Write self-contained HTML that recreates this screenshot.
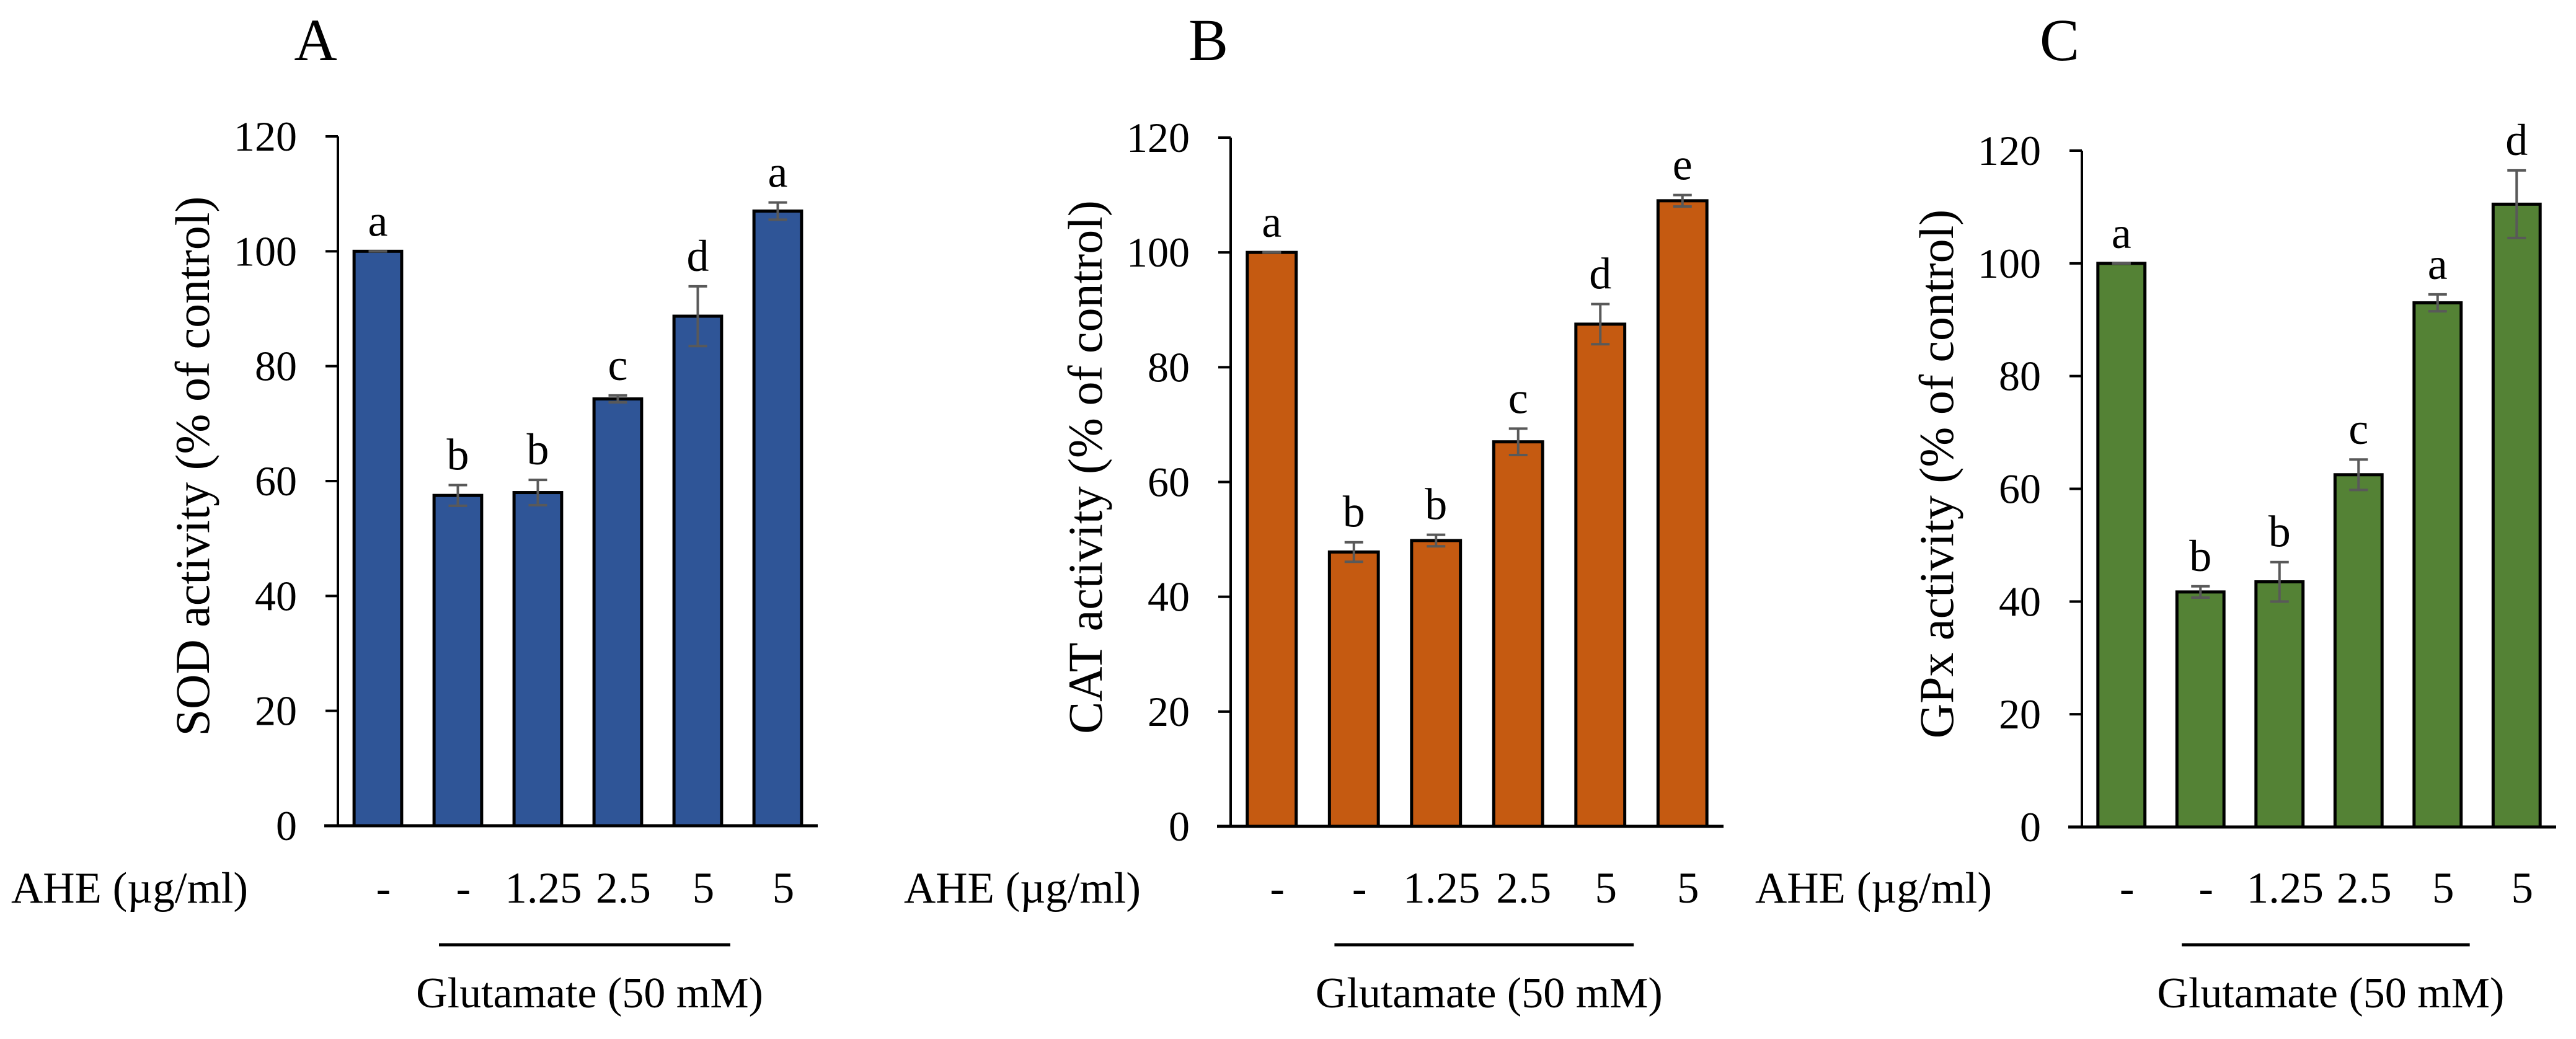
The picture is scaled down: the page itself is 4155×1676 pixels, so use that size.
<!DOCTYPE html>
<html><head><meta charset="utf-8"><style>
html,body{margin:0;padding:0;background:#fff;}
svg{display:block;font-family:"Liberation Serif","Times New Roman",serif;}
</style></head><body>
<svg id="fig" width="4155" height="1676" viewBox="0 0 4155 1676" xmlns="http://www.w3.org/2000/svg"></svg>
<script>
const categories = ["-", "-", "1.25", "2.5", "5", "5"];
const yTicks = [0, 20, 40, 60, 80, 100, 120];
const sodValues = [100, 57.5, 58, 74.3, 88.7, 107];
const sodErrors = [0, 1.8, 2.2, 0.6, 5.2, 1.5];
const sodLetters = ["a", "b", "b", "c", "d", "a"];
const catValues = [100, 47.8, 49.8, 67, 87.5, 109];
const catErrors = [0, 1.7, 1.0, 2.3, 3.5, 1.0];
const catLetters = ["a", "b", "b", "c", "d", "e"];
const gpxValues = [100, 41.7, 43.5, 62.5, 93, 110.5];
const gpxErrors = [0, 1.0, 3.5, 2.7, 1.5, 6.0];
const gpxLetters = ["a", "b", "b", "c", "a", "d"];

const NS = "http://www.w3.org/2000/svg";
const svg = document.getElementById("fig");
function mk(tag, attrs, parent, txt) {
  const e = document.createElementNS(NS, tag);
  for (const k in attrs) e.setAttribute(k, attrs[k]);
  if (txt !== undefined) e.textContent = txt;
  (parent || svg).appendChild(e);
  return e;
}

const panels = [
  {id: "a", letter: "A", title: "SOD activity (% of control)", color: "#2F5597", values: sodValues, errors: sodErrors, letters: sodLetters, x0: 545, x1: 1319, yTop: 220, yBot: 1332},
  {id: "b", letter: "B", title: "CAT activity (% of control)", color: "#C55A11", values: catValues, errors: catErrors, letters: catLetters, x0: 1985, x1: 2780, yTop: 222, yBot: 1333},
  {id: "c", letter: "C", title: "GPx activity (% of control)", color: "#548235", values: gpxValues, errors: gpxErrors, letters: gpxLetters, x0: 3358, x1: 4123, yTop: 243, yBot: 1334}
];

panels.forEach(p => {
  const g = mk("g", {});
  
  
  const n = categories.length;
  const w = (p.x1 - p.x0) / n;
  const yScale = v => p.yBot - (v / 120) * (p.yBot - p.yTop);
  const xCenter = i => p.x0 + w * (i + 0.5);
  const barW = w * 0.595;

  const t = mk("text", {x: p.x0 - 36, y: 97, "font-size": 96, "text-anchor": "middle", fill: "#000"}, g, p.letter);
  
  

  p.values.forEach((v, i) => {
    const r = mk("rect", {x: xCenter(i) - barW / 2, y: yScale(v), width: barW, height: p.yBot - yScale(v), fill: p.color, stroke: "#000", "stroke-width": 5}, g);
    
    
  });
  p.values.forEach((v, i) => {
    const e = p.errors[i];
    const cx = xCenter(i);
    const eg = mk("g", {stroke: "#595959", "stroke-width": 4, fill: "none"}, g);
    
    
    mk("line", {x1: cx, x2: cx, y1: yScale(v + e), y2: yScale(v - e)}, eg);
    mk("line", {x1: cx - 15, x2: cx + 15, y1: yScale(v + e), y2: yScale(v + e)}, eg);
    mk("line", {x1: cx - 15, x2: cx + 15, y1: yScale(v - e), y2: yScale(v - e)}, eg);
    const lt = mk("text", {x: cx, y: yScale(v + e) - 25, "font-size": 72, "text-anchor": "middle", fill: "#000"}, g, p.letters[i]);
    
    
  });
  const ya = mk("line", {x1: p.x0, x2: p.x0, y1: p.yTop, y2: p.yBot + 2, stroke: "#000", "stroke-width": 4}, g);
  
  
  const xa = mk("line", {x1: p.x0 - 22, x2: p.x1, y1: p.yBot, y2: p.yBot, stroke: "#000", "stroke-width": 5}, g);
  
  
  yTicks.forEach(tv => {
    const ty = yScale(tv);
    const tk = mk("line", {x1: p.x0 - 20, x2: p.x0, y1: ty, y2: ty, stroke: "#000", "stroke-width": 4}, g);
    
    
    const tl = mk("text", {x: p.x0 - 66, y: ty + 23, "font-size": 68, "text-anchor": "end", fill: "#000"}, g, String(tv));
    
    
  });
  const yt = mk("text", {x: 0, y: 0, "font-size": 78, "text-anchor": "middle", fill: "#000", transform: "translate(" + (p.x0 - 208) + "," + ((p.yTop + p.yBot) / 2 - 24) + ") rotate(-90)"}, g, p.title);
  
  
  const ah = mk("text", {x: p.x0 - 527, y: 1456, "font-size": 71, fill: "#000"}, g, "AHE (µg/ml)");
  
  
  categories.forEach((c, i) => {
    const cl = mk("text", {x: xCenter(i) + 9, y: 1456, "font-size": 71, "text-anchor": "middle", fill: "#000"}, g, c);
    
    
  });
  const s = w / 129;
  const gx1 = p.x0 + 163 * s, gx2 = p.x0 + 633 * s;
  const gl = mk("line", {x1: gx1, x2: gx2, y1: 1524, y2: 1524, stroke: "#000", "stroke-width": 5}, g);
  
  
  const gt = mk("text", {x: (gx1 + gx2) / 2 + 8, y: 1625, "font-size": 70, "text-anchor": "middle", fill: "#000"}, g, "Glutamate (50 mM)");
  
  
});
</script>
</body></html>
